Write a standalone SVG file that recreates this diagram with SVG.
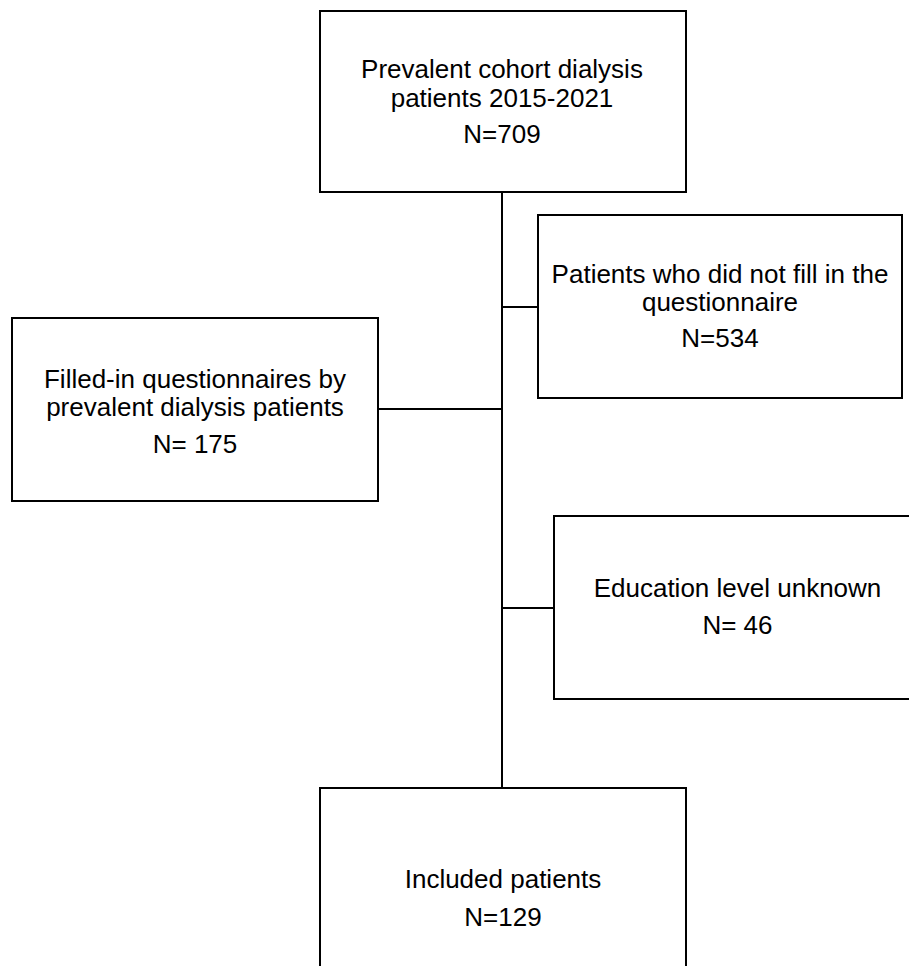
<svg xmlns="http://www.w3.org/2000/svg" width="909" height="966" viewBox="0 0 909 966">
<style>
.box{fill:#fff;stroke:#000;stroke-width:2}
.ln{stroke:#000;stroke-width:2;fill:none}
text{font-family:"Liberation Sans",Arial,sans-serif;font-size:26px;fill:#000;text-anchor:middle}
</style>
<rect width="909" height="966" fill="#fff"/>
<g id="connectors">
<line class="ln" x1="502" y1="192" x2="502" y2="788"/>
<line class="ln" x1="502" y1="307" x2="538" y2="307"/>
<line class="ln" x1="378" y1="409" x2="502" y2="409"/>
<line class="ln" x1="502" y1="608" x2="554" y2="608"/>
</g>
<g id="n-prevalent">
<rect class="box" x="320" y="11" width="366" height="181"/>
<text x="502" y="78">Prevalent cohort dialysis</text>
<text x="502" y="107">patients 2015-2021</text>
<text x="502" y="143">N=709</text>
</g>
<g id="n-notfilled">
<rect class="box" x="538" y="215" width="364" height="183"/>
<text x="720" y="283">Patients who did not fill in the</text>
<text x="720" y="311">questionnaire</text>
<text x="720" y="347">N=534</text>
</g>
<g id="n-filled">
<rect class="box" x="12" y="318" width="366" height="183"/>
<text x="195" y="388">Filled-in questionnaires by</text>
<text x="195" y="416">prevalent dialysis patients</text>
<text x="195" y="453">N= 175</text>
</g>
<g id="n-education">
<rect class="box" x="554" y="516" width="367" height="183"/>
<text x="737.5" y="597">Education level unknown</text>
<text x="737.5" y="634">N= 46</text>
</g>
<g id="n-included">
<rect class="box" x="320" y="788" width="366" height="220"/>
<text x="503" y="888">Included patients</text>
<text x="503" y="926">N=129</text>
</g>
</svg>
